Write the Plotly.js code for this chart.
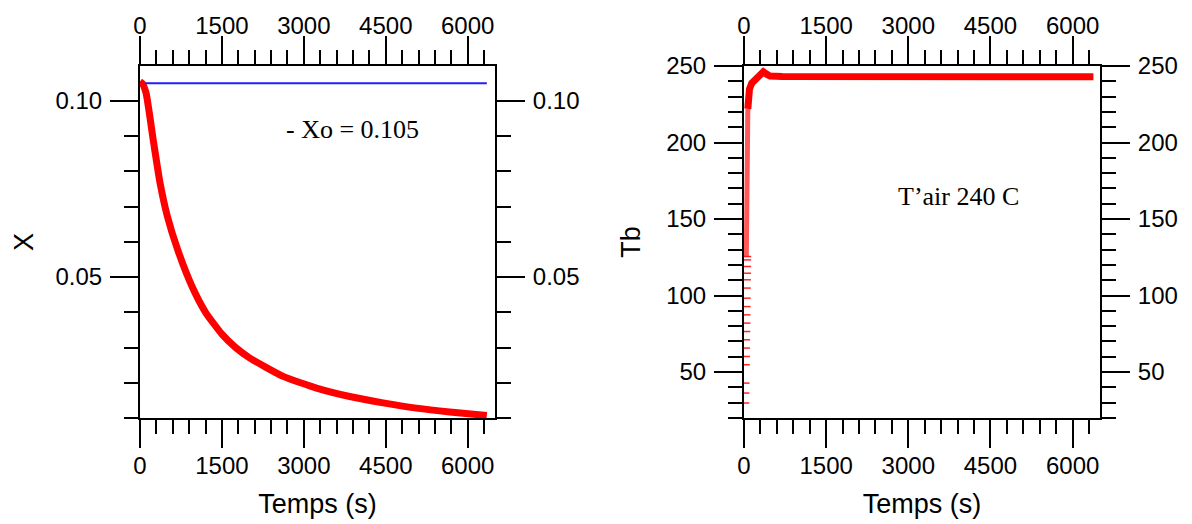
<!DOCTYPE html>
<html>
<head>
<meta charset="utf-8">
<script src="https://cdn.plot.ly/plotly-3.0.1.min.js"></script>
<style>
  html, body { margin: 0; padding: 0; background: #ffffff; }
  #chart { width: 1192px; height: 524px; }
</style>
</head>
<body>
<div id="chart"></div>
<script>
// ---- Left panel: moisture content X vs time ----
const dryTime = [0, 40, 110, 250, 366, 500, 689, 951, 1200, 1500, 1750, 2012, 2622, 3232, 3841, 4451, 5061, 5671, 6350];
const dryX    = [0.1055, 0.1050, 0.1023, 0.0881, 0.0768, 0.0673, 0.0578, 0.0474, 0.0400, 0.0338, 0.0300, 0.0270, 0.0218, 0.0185, 0.0161, 0.0143, 0.0128, 0.0117, 0.0107];
const xoTime  = [90, 6350];
const xoValue = [0.105, 0.105];

// ---- Right panel: product temperature Tb vs time ----
const tbSparseTime = [6, 9, 12, 17, 19, 21, 23, 25, 27, 29, 31, 33, 35, 37, 39, 40, 41, 42];
const tbSparseTemp = [29.8, 36.3, 42.8, 54.8, 60.2, 65.7, 71.1, 76.5, 82.0, 87.4, 92.8, 98.3, 104.9, 110.3, 114.6, 119.0, 123.3, 125.5];
const tbRiseTime = [42, 48, 55, 62, 70];
const tbRiseTemp = [125.5, 150, 180, 205, 222];
const tbMainTime = [70, 80, 100, 141, 250, 353, 420, 476, 700, 2000, 4000, 6380];
const tbMainTemp = [222, 230, 235, 238.7, 242.5, 246.2, 244.5, 243.4, 243.2, 243, 243, 243];

const xTickStep = 1500, xMinorStep = 300;
const timeRange = [0, 6500];
const xRange = [0.01, 0.1099];
const tbRange = [20, 250];

const labelXo = '- Xo = 0.105';
const labelAir = 'T\u2019air 240 C';

const tickFont = {family: 'Liberation Sans, Arial, sans-serif', size: 24, color: '#000'};
const titleFont = {family: 'Liberation Sans, Arial, sans-serif', size: 27, color: '#000'};

function axisBase(extra) {
  return Object.assign({
    showline: true, linewidth: 2, linecolor: '#000',
    showgrid: false, zeroline: false,
    ticks: 'outside', ticklen: 28, tickwidth: 2, tickcolor: '#000',
    tickfont: tickFont, ticklabelstandoff: 0,
    fixedrange: true, automargin: false
  }, extra);
}
function xAxis(domain, anchor, extra) {
  return axisBase(Object.assign({
    domain: domain, anchor: anchor, range: timeRange,
    tick0: 0, dtick: xTickStep,
    minor: {ticks: 'outside', dtick: xMinorStep, tick0: 0, ticklen: 14, tickwidth: 2, tickcolor: '#000', showgrid: false}
  }, extra));
}

const W = 1192, H = 524, mL = 60, mR = 60, mT = 40, mB = 60;
const pw = W - mL - mR, ph = H - mT - mB;
const dx = (a, b) => [(a - mL) / pw, (b - mL) / pw];
const dy = (top, bottom) => [(H - mB - bottom) / ph, (H - mB - top) / ph];

const domL = dx(140, 495), domR = dx(744, 1100), domY = dy(66, 418);

const traces = [
  {x: dryTime, y: dryX, xaxis: 'x', yaxis: 'y', mode: 'lines',
   line: {color: '#ff0000', width: 7, shape: 'spline', smoothing: 0.5}, hoverinfo: 'skip', showlegend: false},
  {x: xoTime, y: xoValue, xaxis: 'x3', yaxis: 'y3', mode: 'lines',
   line: {color: '#1f1fff', width: 2}, hoverinfo: 'skip', showlegend: false},
  {x: tbSparseTime, y: tbSparseTemp, xaxis: 'x4', yaxis: 'y4', mode: 'markers',
   marker: {symbol: 'line-ew', size: 7, color: '#ff0000', line: {color: '#ff0000', width: 1.5}}, opacity: 0.85,
   hoverinfo: 'skip', showlegend: false},
  {x: tbRiseTime, y: tbRiseTemp, xaxis: 'x2', yaxis: 'y2', mode: 'lines',
   line: {color: 'rgba(255,0,0,0.65)', width: 5}, hoverinfo: 'skip', showlegend: false},
  {x: tbMainTime, y: tbMainTemp, xaxis: 'x2', yaxis: 'y2', mode: 'lines',
   line: {color: '#ff0000', width: 7}, hoverinfo: 'skip', showlegend: false}
];

const layout = {
  width: W, height: H,
  margin: {l: mL, r: mR, t: mT, b: mB},
  paper_bgcolor: '#fff', plot_bgcolor: '#fff',
  showlegend: false,
  xaxis: xAxis(domL, 'y', {ticklabelstandoff: -3, title: {text: 'Temps (s)', font: titleFont, standoff: 16}}),
  xaxis3: xAxis(domL, 'y', {side: 'top', overlaying: 'x', ticklabelstandoff: -8}),
  yaxis: axisBase({domain: domY, anchor: 'x', range: xRange, tick0: 0, dtick: 0.05, tickformat: '.2f',
    ticklabelstandoff: 3,
    minor: {ticks: 'outside', dtick: 0.01, tick0: 0, ticklen: 14, tickwidth: 2, tickcolor: '#000', showgrid: false},
    title: {text: 'X', font: titleFont, standoff: 14}}),
  yaxis3: axisBase({domain: domY, anchor: 'x', range: xRange, tick0: 0, dtick: 0.05, tickformat: '.2f',
    side: 'right', overlaying: 'y', ticklabelstandoff: 3,
    minor: {ticks: 'outside', dtick: 0.01, tick0: 0, ticklen: 14, tickwidth: 2, tickcolor: '#000', showgrid: false}}),
  xaxis2: xAxis(domR, 'y2', {ticklabelstandoff: -3, title: {text: 'Temps (s)', font: titleFont, standoff: 16}}),
  xaxis4: xAxis(domR, 'y2', {side: 'top', overlaying: 'x2', ticklabelstandoff: -8}),
  yaxis2: axisBase({domain: domY, anchor: 'x2', range: tbRange, tick0: 0, dtick: 50,
    ticklabelstandoff: 3,
    minor: {ticks: 'outside', dtick: 10, tick0: 0, ticklen: 14, tickwidth: 2, tickcolor: '#000', showgrid: false},
    title: {text: 'Tb', font: titleFont, standoff: 18}}),
  yaxis4: axisBase({domain: domY, anchor: 'x2', range: tbRange, tick0: 0, dtick: 50,
    side: 'right', overlaying: 'y2', ticklabelstandoff: 3,
    minor: {ticks: 'outside', dtick: 10, tick0: 0, ticklen: 14, tickwidth: 2, tickcolor: '#000', showgrid: false}}),
  annotations: [
    {text: labelXo, xref: 'x', yref: 'y', x: 3896, y: 0.0919, showarrow: false,
     xanchor: 'center', yanchor: 'middle',
     font: {family: 'Liberation Serif, Times New Roman, serif', size: 26, color: '#000'}},
    {text: labelAir, xref: 'x2', yref: 'y2', x: 3914, y: 164.5, showarrow: false,
     xanchor: 'center', yanchor: 'middle',
     font: {family: 'Liberation Serif, Times New Roman, serif', size: 26, color: '#000'}}
  ]
};

Plotly.newPlot('chart', traces, layout, {staticPlot: true, displayModeBar: false});
</script>
</body>
</html>
